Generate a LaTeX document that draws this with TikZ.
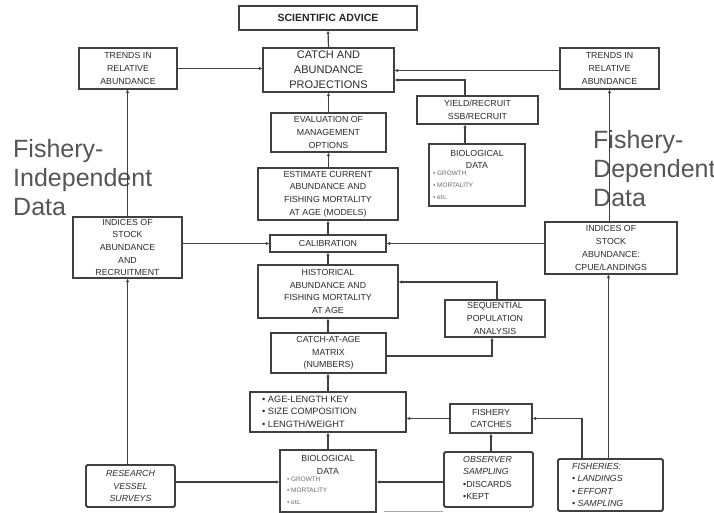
\documentclass[tikz,border=0pt]{standalone}
\usepackage{fontspec}
\setmainfont{Liberation Sans}
\usetikzlibrary{arrows.meta}
\definecolor{ln}{HTML}{404040}
\definecolor{tx}{HTML}{2a2a2a}
\definecolor{big}{HTML}{555555}
\definecolor{lt}{HTML}{666666}
\tikzset{
  box/.style={draw=ln, line width=1.2pt, inner sep=0pt, text=tx, align=center,
    font=\fontsize{8.8}{12.7}\selectfont},
  tbox/.style={box, line width=1.8pt, rounded corners=1.5pt},
  arr/.style={draw=ln, line width=1.2pt, -{Latex[length=3.4pt,width=3.4pt]}},
  bigtxt/.style={text=big, font=\fontsize{25}{29}\selectfont, align=left, inner sep=0pt, anchor=north west},
  itm/.style={inner sep=0pt, anchor=west, text=tx, font=\fontsize{8.8}{10}\selectfont},
  sitm/.style={inner sep=0pt, anchor=west, text=lt, font=\fontsize{6.4}{8}\selectfont},
  ttl/.style={inner sep=0pt, text=tx, font=\fontsize{8.8}{10}\selectfont},
}
\begin{document}
\begin{tikzpicture}[x=1pt,y=-1pt]
\useasboundingbox (0,0) rectangle (714,512);
% big side texts
\node[bigtxt] (fi) at (13,139) {Fishery-\\Independent\\Data};
\node[bigtxt] (fd) at (593,130) {Fishery-\\Dependent\\Data};
% boxes
\node[box, minimum width=178, minimum height=24, font=\fontsize{10.5}{12}\selectfont\bfseries, text=black!85] (adv) at (328,18) {SCIENTIFIC ADVICE};
\node[box, minimum width=98, minimum height=41] (trL) at (128,68.5) {TRENDS IN\\RELATIVE\\ABUNDANCE};
\node[box, minimum width=131, minimum height=44, font=\fontsize{11}{14.8}\selectfont] (proj) at (328.5,70) {CATCH AND\\ABUNDANCE\\PROJECTIONS};
\node[box, minimum width=99, minimum height=41] (trR) at (609.5,68.5) {TRENDS IN\\RELATIVE\\ABUNDANCE};
\node[box, minimum width=121, minimum height=28] (yld) at (477.5,110) {YIELD/RECRUIT\\SSB/RECRUIT};
\node[box, minimum width=115, minimum height=39] (evl) at (328.5,132.5) {EVALUATION OF\\MANAGEMENT\\OPTIONS};
\node[box, minimum width=96, minimum height=62] (bioT) at (477,175) {};
\node[box, minimum width=140, minimum height=52] (est) at (328,194) {ESTIMATE CURRENT\\ABUNDANCE AND\\FISHING MORTALITY\\AT AGE (MODELS)};
\node[box, minimum width=116, minimum height=17] (cal) at (328,243.5) {CALIBRATION};
\node[box, minimum width=109, minimum height=61] (indL) at (127.5,247.5) {INDICES OF\\STOCK\\ABUNDANCE\\AND\\RECRUITMENT};
\node[box, minimum width=132, minimum height=52] (indR) at (611,248) {INDICES OF\\STOCK\\ABUNDANCE:\\CPUE/LANDINGS};
\node[box, minimum width=140, minimum height=53] (hist) at (328,291.5) {HISTORICAL\\ABUNDANCE AND\\FISHING MORTALITY\\AT AGE};
\node[box, minimum width=100, minimum height=37] (seq) at (495,318.5) {SEQUENTIAL\\POPULATION\\ANALYSIS};
\node[box, minimum width=115, minimum height=40] (caa) at (328.5,353) {CATCH-AT-AGE\\MATRIX\\(NUMBERS)};
\node[box, minimum width=156, minimum height=40] (alk) at (328,412) {};
\node[box, minimum width=82, minimum height=29] (fc) at (491,418.5) {FISHERY\\CATCHES};
\node[box, minimum width=96, minimum height=62] (bioB) at (328,481) {};
\node[tbox, minimum width=89, minimum height=42, font=\fontsize{8.8}{12.7}\selectfont\itshape] (rvs) at (130.5,486) {RESEARCH\\VESSEL\\SURVEYS};
\node[tbox, minimum width=89, minimum height=55] (obs) at (488.5,479.5) {};
\node[tbox, minimum width=105, minimum height=52] (fis) at (610.5,485) {};
% contents: biological data (top)
\node[ttl] (bt1) at (477,153) {BIOLOGICAL};
\node[ttl] (bt2) at (477,165) {DATA};
\node[sitm] (bt3) at (433,173) {• GROWTH};
\node[sitm] (bt4) at (433,185) {• MORTALITY};
\node[sitm] (bt5) at (433,197.5) {• etc.};
% biological data (bottom)
\node[ttl] (bb1) at (328,458) {BIOLOGICAL};
\node[ttl] (bb2) at (328,471) {DATA};
\node[sitm] (bb3) at (287,479) {• GROWTH};
\node[sitm] (bb4) at (287,490) {• MORTALITY};
\node[sitm] (bb5) at (287,502) {• etc.};
% age-length key list
\node[itm, font=\fontsize{9.2}{10}\selectfont] (a1) at (262,399) {• AGE-LENGTH KEY};
\node[itm, font=\fontsize{9.2}{10}\selectfont] (a2) at (262,411.5) {• SIZE COMPOSITION};
\node[itm, font=\fontsize{9.2}{10}\selectfont] (a3) at (262,424) {• LENGTH/WEIGHT};
% observer sampling
\node[itm, font=\fontsize{8.8}{10}\selectfont\itshape] (o1) at (463,459) {OBSERVER};
\node[itm, font=\fontsize{8.8}{10}\selectfont\itshape] (o2) at (463,471.5) {SAMPLING};
\node[itm] (o3) at (463,484) {•DISCARDS};
\node[itm] (o4) at (463,496.5) {•KEPT};
% fisheries
\node[itm, font=\fontsize{8.8}{10}\selectfont\itshape] (f1) at (572,466) {FISHERIES:};
\node[itm, font=\fontsize{8.8}{10}\selectfont\itshape] (f2) at (572,478.5) {• LANDINGS};
\node[itm, font=\fontsize{8.8}{10}\selectfont\itshape] (f3) at (572,491) {• EFFORT};
\node[itm, font=\fontsize{8.8}{10}\selectfont\itshape] (f4) at (572,503) {• SAMPLING};
% central chain
\draw[arr] (proj.north) -- (adv.south);
\draw[arr] (evl.north) -- (evl.north |- proj.south);
\draw[arr] (est.north -| evl.south) -- (evl.south);
\draw[arr] (cal.north) -- (cal.north |- est.south);
\draw[arr] (hist.north) -- (cal.south);
\draw[arr] (caa.north -| hist.south) -- (hist.south);
\draw[arr] (alk.north) -- (alk.north |- caa.south);
\draw[arr] (bioB.north) -- (alk.south);
% top connectors
\draw[arr] (trL.east) -- (trL.east -| proj.west);
\draw[arr] ([yshift=-2pt]trR.west) -- ([yshift=-2pt]trR.west -| proj.east);
\draw[arr] ([xshift=-12.5pt]yld.north) |- ([yshift=-10pt]proj.east);
\draw[arr] ([xshift=-12pt]bioT.north) -- ([xshift=-12pt]bioT.north |- yld.south);
% left side
\draw[arr] (indL.north) -- (indL.north |- trL.south);
\draw[arr] (cal.west -| indL.east) -- (cal.west);
\draw[arr] (rvs.north -| indL.south) -- (indL.south);
\draw[arr] ([yshift=4pt]rvs.east) -- ([yshift=4pt]rvs.east -| bioB.west);
% right side
\draw[arr] (trR.south |- indR.north) -- (trR.south);
\draw[arr] (cal.east -| indR.west) -- (cal.east);
\draw[arr] ([xshift=-2pt]fis.north) -- ([xshift=-2pt]fis.north |- indR.south);
\draw[arr] ([xshift=-28.5pt]fis.north) |- (fc.east);
\draw[arr] (fc.west) -- (fc.west -| alk.east);
\draw[arr] (fc.south |- obs.north) -- (fc.south);
\draw[arr] ([yshift=-2.5pt]obs.west) -- ([yshift=-2.5pt]obs.west -| bioB.east);
\draw[arr] ([xshift=2pt]seq.north) |- ([yshift=9.5pt]hist.east);
\draw[arr] ([yshift=-3pt]caa.east) -| ([xshift=-3pt]seq.south);
% faint line at the bottom edge
\coordinate (s1) at (384,511);
\coordinate (s2) at (443,511);
\draw[ln!45, line width=0.8pt] (s1) -- (s2);
\end{tikzpicture}
\end{document}
